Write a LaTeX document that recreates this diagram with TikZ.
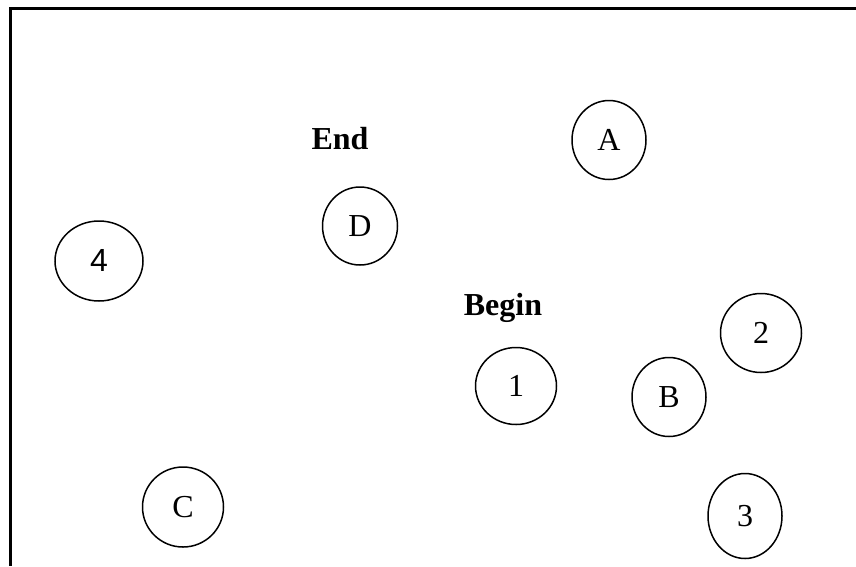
\documentclass[tikz,border=0pt]{standalone}
\usepackage{fontspec}
\setmainfont{Liberation Serif}
\newfontfamily\arialfont{Liberation Sans}
\usetikzlibrary{shapes.geometric}
\tikzset{
  oval/.style={draw, ellipse, line width=1.5pt, inner sep=0pt, text height=21pt, text depth=0pt, font=\fontsize{32}{38}\selectfont},
  lbl/.style={font=\fontsize{32}{38}\selectfont\bfseries, inner sep=0pt, text height=21pt, text depth=0pt},
  frame/.style={line width=3pt}
}
\begin{document}
\begin{tikzpicture}[x=1pt,y=-1pt]
\useasboundingbox (0,0) rectangle (856,566);
\coordinate (tl) at (10,8);
\coordinate (tr) at (856,8);
\coordinate (bl) at (10,566);
\draw[frame] (tr) -- (tl) -- (bl);
\node[lbl] (end) at (340,138.5) {End};
\node[lbl] (begin) at (503,305) {Begin};
\node[oval, minimum width=74pt, minimum height=79pt] (A) at (609,140) {A};
\node[oval, minimum width=75pt, minimum height=78pt] (D) at (360,226) {D};
\node[oval, minimum width=88pt, minimum height=80pt, font=\fontsize{32}{38}\selectfont\arialfont] (n4) at (99,261) {4};
\node[oval, minimum width=81pt, minimum height=79pt] (n2) at (761,333) {2};
\node[oval, minimum width=81pt, minimum height=77pt] (n1) at (516,386) {1};
\node[oval, minimum width=74pt, minimum height=79pt] (B) at (669,397) {B};
\node[oval, minimum width=81pt, minimum height=80pt] (C) at (183,507) {C};
\node[oval, minimum width=74pt, minimum height=85pt] (n3) at (745,516) {3};
\end{tikzpicture}
\end{document}
